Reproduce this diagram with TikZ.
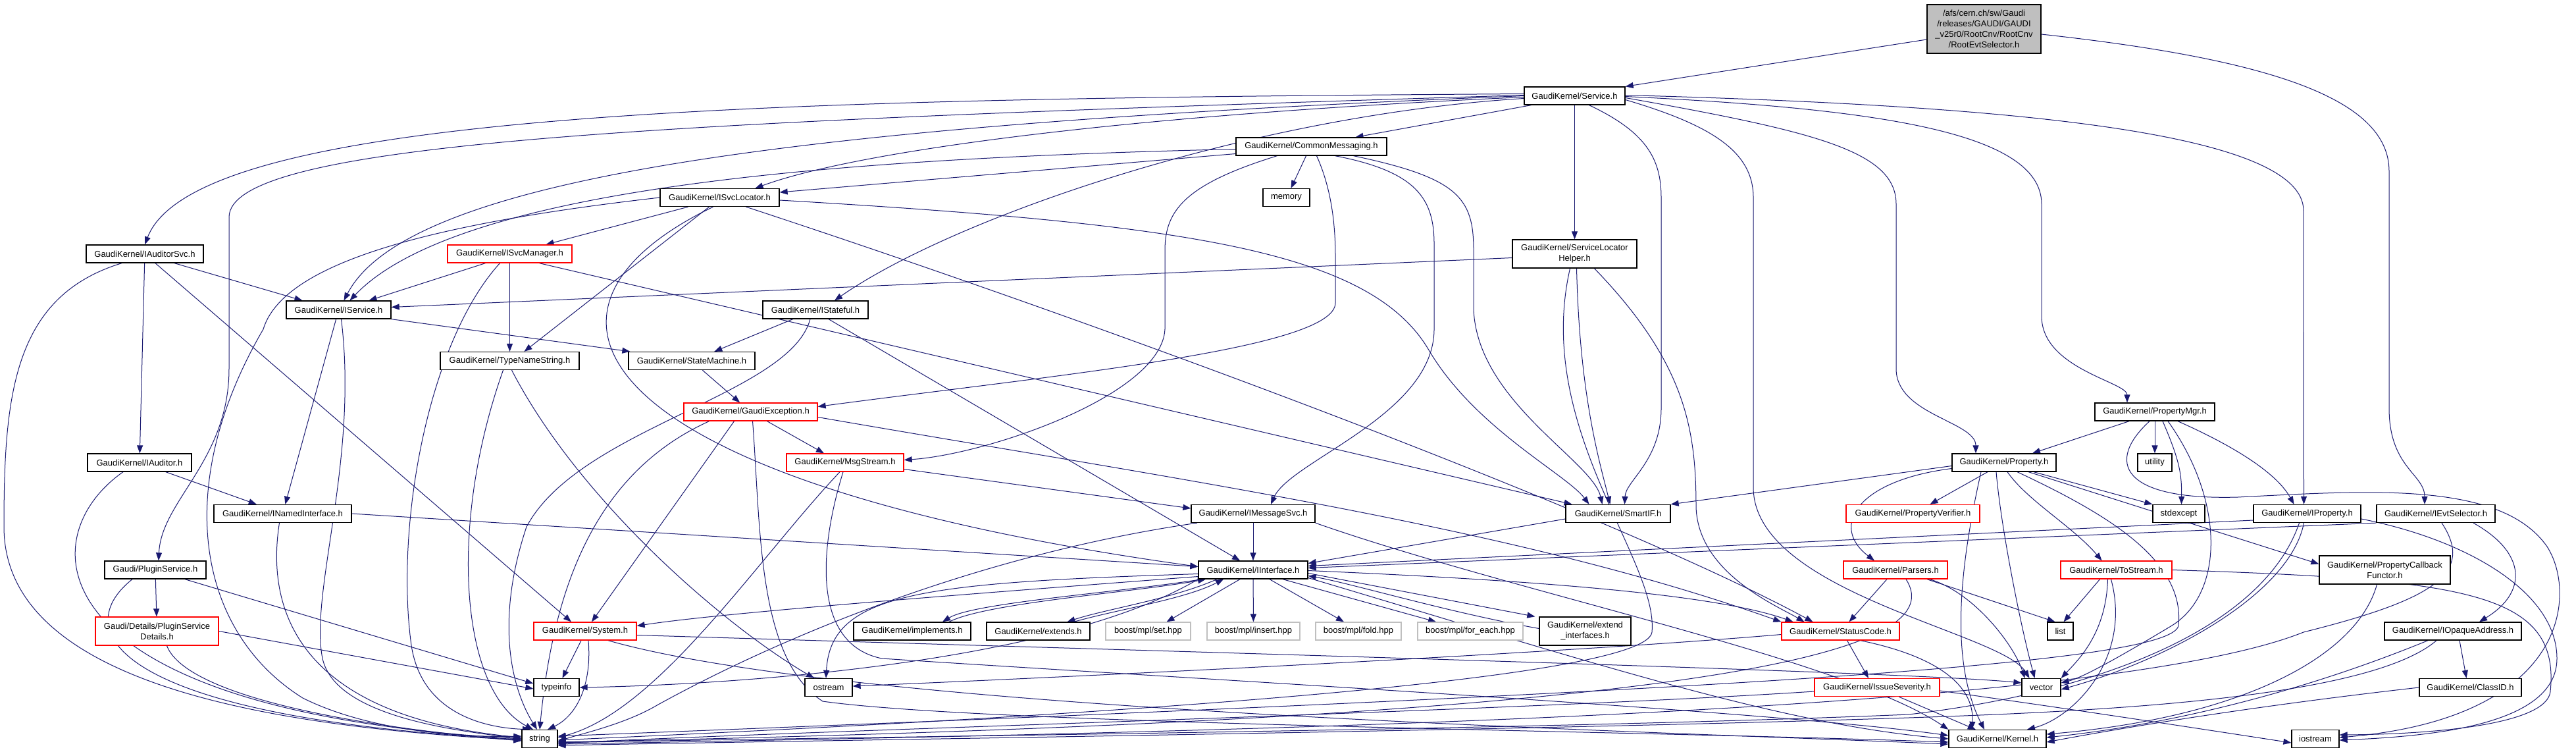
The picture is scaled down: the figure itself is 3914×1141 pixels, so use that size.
\documentclass[tikz,border=0pt]{standalone}
\usepackage{fontspec}
\usepackage{xcolor}
\newfontfamily\dxfont{Liberation Sans}
\definecolor{edgeblue}{HTML}{191970}
\usetikzlibrary{arrows.meta,backgrounds}

\begin{document}
\begin{tikzpicture}[x=1pt,y=-1pt]
			\tikzstyle{every node}+=[inner sep=0pt]
			\tikzstyle{box}=[draw=black,fill=white,line width=1.3pt,minimum height=27pt,align=center,font=\dxfont\fontsize{13pt}{16pt}\selectfont]
			\tikzstyle{redbox}=[box,draw=red]
			\tikzstyle{graybox}=[box,draw=black!25]
			\tikzstyle{incl}=[draw=edgeblue,line width=1pt,-{Triangle[length=12pt,width=9pt]}]
			\useasboundingbox (0,0) rectangle (3914,1141);
			% files
			\node[box,fill=black!25,minimum width=173pt,minimum height=74pt] (root) at (3014.5,44) {/afs/cern.ch/sw/Gaudi\\/releases/GAUDI/GAUDI\\\_v25r0/RootCnv/RootCnv\\/RootEvtSelector.h};
			\node[box,minimum width=153pt] (service) at (2392.5,145.5) {GaudiKernel/Service.h};
			\node[box,minimum width=229pt] (commsg) at (1992.5,222.5) {GaudiKernel/CommonMessaging.h};
			\node[box,minimum width=181pt] (isvcloc) at (1093.5,300) {GaudiKernel/ISvcLocator.h};
			\node[box,minimum width=71pt] (memory) at (1954.5,300) {memory};
			\node[box,minimum width=178pt] (iauditorsvc) at (220,385.5) {GaudiKernel/IAuditorSvc.h};
			\node[redbox,minimum width=189pt] (isvcmgr) at (774.5,385.5) {GaudiKernel/ISvcManager.h};
			\node[box,minimum width=189pt,minimum height=43pt] (slhelper) at (2392.5,385.5) {GaudiKernel/ServiceLocator\\Helper.h};
			\node[box,minimum width=159pt] (iservice) at (514.5,470.5) {GaudiKernel/IService.h};
			\node[box,minimum width=160pt] (istateful) at (1239,470.5) {GaudiKernel/IStateful.h};
			\node[box,minimum width=211pt] (typename) at (774.5,548) {GaudiKernel/TypeNameString.h};
			\node[box,minimum width=192pt] (statemach) at (1051,548) {GaudiKernel/StateMachine.h};
			\node[redbox,minimum width=203pt] (gaudiexc) at (1140.5,625.5) {GaudiKernel/GaudiException.h};
			\node[box,minimum width=182pt] (propmgr) at (3274,625.5) {GaudiKernel/PropertyMgr.h};
			\node[box,minimum width=158pt] (iauditor) at (212,702.5) {GaudiKernel/IAuditor.h};
			\node[redbox,minimum width=178pt] (msgstream) at (1284,702.5) {GaudiKernel/MsgStream.h};
			\node[box,minimum width=158pt] (property) at (3045,702.5) {GaudiKernel/Property.h};
			\node[box,minimum width=52pt] (utility) at (3274,702.5) {utility};
			\node[box,minimum width=209pt] (inamed) at (429.5,780) {GaudiKernel/INamedInterface.h};
			\node[box,minimum width=188pt] (imsgsvc) at (1904,780) {GaudiKernel/IMessageSvc.h};
			\node[box,minimum width=159pt] (smartif) at (2458.5,780) {GaudiKernel/SmartIF.h};
			\node[redbox,minimum width=203pt] (propverif) at (2906.5,780) {GaudiKernel/PropertyVerifier.h};
			\node[box,minimum width=79pt] (stdexcept) at (3310.5,780) {stdexcept};
			\node[box,minimum width=163pt] (iproperty) at (3505.5,780) {GaudiKernel/IProperty.h};
			\node[box,minimum width=180pt] (ievtsel) at (3701,780) {GaudiKernel/IEvtSelector.h};
			\node[box,minimum width=154pt] (plugin) at (236,865.5) {Gaudi/PluginService.h};
			\node[box,minimum width=166pt] (iinterface) at (1904,865.5) {GaudiKernel/IInterface.h};
			\node[redbox,minimum width=158pt] (parsers) at (2880,865.5) {GaudiKernel/Parsers.h};
			\node[redbox,minimum width=169pt] (tostream) at (3215.5,865.5) {GaudiKernel/ToStream.h};
			\node[box,minimum width=199pt,minimum height=43pt] (propcb) at (3623.5,865.5) {GaudiKernel/PropertyCallback\\Functor.h};
			\node[redbox,minimum width=187pt,minimum height=43pt] (plugindet) at (238.5,958.5) {Gaudi/Details/PluginService\\Details.h};
			\node[redbox,minimum width=156pt] (system) at (889,958.5) {GaudiKernel/System.h};
			\node[box,minimum width=178pt] (implements) at (1386,958.5) {GaudiKernel/implements.h};
			\node[box,minimum width=157pt] (extends) at (1577.5,958.5) {GaudiKernel/extends.h};
			\node[graybox,minimum width=129pt] (mplset) at (1744.5,958.5) {boost/mpl/set.hpp};
			\node[graybox,minimum width=141pt] (mplinsert) at (1904.5,958.5) {boost/mpl/insert.hpp};
			\node[graybox,minimum width=130pt] (mplfold) at (2064,958.5) {boost/mpl/fold.hpp};
			\node[graybox,minimum width=160pt] (mplforeach) at (2234,958.5) {boost/mpl/for\_each.hpp};
			\node[box,minimum width=139pt,minimum height=43pt] (extendif) at (2408.5,958.5) {GaudiKernel/extend\\\_interfaces.h};
			\node[redbox,minimum width=179pt] (statuscode) at (2796.5,958.5) {GaudiKernel/StatusCode.h};
			\node[box,minimum width=39pt] (list) at (3130.5,958.5) {list};
			\node[box,minimum width=208pt] (iopaque) at (3727,958.5) {GaudiKernel/IOpaqueAddress.h};
			\node[box,minimum width=69pt] (typeinfo) at (845.5,1044) {typeinfo};
			\node[box,minimum width=72pt] (ostream) at (1259,1044) {ostream};
			\node[redbox,minimum width=190pt] (issue) at (2852,1044) {GaudiKernel/IssueSeverity.h};
			\node[box,minimum width=59pt] (vector) at (3101.5,1044) {vector};
			\node[box,minimum width=155pt] (classid) at (3753.5,1044) {GaudiKernel/ClassID.h};
			\node[box,minimum width=54pt] (string) at (820,1122) {string};
			\node[box,minimum width=148pt] (kernel) at (3035,1122) {GaudiKernel/Kernel.h};
			\node[box,minimum width=72pt] (iostream) at (3518,1122) {iostream};
			\begin{pgfonlayer}{background}
			% RootEvtSelector.h
			\draw[incl] ([yshift=-16pt]root.west) -- (service.north east);
			\draw[incl] ([yshift=-8pt]root.east) .. controls (3450,90) and (3630,150) .. (3630,260) -- (3630,620) .. controls (3630,710) and (3684,720) .. ([xshift=-17pt]ievtsel.north);
			% Service.h
			\draw[incl] ([yshift=3pt]service.west) .. controls (1200,150) and (300,165) .. (iauditorsvc.north);
			\draw[incl] ([yshift=1pt]service.west) .. controls (1000,185) and (348,215) .. (348,330) -- (348,560) .. controls (348,700) and (245,760) .. ([xshift=5pt]plugin.north);
			\draw[incl] (service.west) .. controls (1200,190) and (620,270) .. ([xshift=8pt]iservice.north);
			\draw[incl] ([yshift=-2pt]service.west) .. controls (1700,175) and (1300,230) .. ([xshift=54pt]isvcloc.north);
			\draw[incl] ([yshift=-4pt]service.west) .. controls (1900,175) and (1450,330) .. ([xshift=29pt]istateful.north);
			\draw[incl] ([xshift=-66pt]service.south) -- ([xshift=67pt]commsg.north);
			\draw[incl] (service) -- (slhelper);
			\draw[incl] ([xshift=22pt]service.south) .. controls (2500,200) and (2524,240) .. (2524,300) -- (2524,620) .. controls (2524,700) and (2470,730) .. ([xshift=10pt]smartif.north);
			\draw[incl] ([yshift=-6pt]service.east) .. controls (2600,190) and (2664,230) .. (2664,300) -- (2664,740) .. controls (2664,900) and (3040,960) .. ([xshift=-18pt]vector.north);
			\draw[incl] ([yshift=-3pt]service.east) .. controls (2760,200) and (2881,230) .. (2881,310) -- (2881,560) .. controls (2881,630) and (3002,640) .. ([xshift=-43pt]property.north);
			\draw[incl] ([yshift=-1pt]service.east) .. controls (2850,165) and (3102,200) .. (3102,310) -- (3102,480) .. controls (3102,560) and (3232,580) .. ([xshift=-42pt]propmgr.north);
			\draw[incl] ([yshift=1pt]service.east) .. controls (3050,160) and (3500,200) .. (3500,320) -- ([xshift=-5pt]iproperty.north);
			% CommonMessaging.h
			\draw[incl] ([yshift=-4pt]commsg.west) .. controls (1300,240) and (700,280) .. ([xshift=17pt]iservice.north);
			\draw[incl] ([yshift=-11pt]commsg.west) -- ([yshift=8pt]isvcloc.east);
			\draw[incl] ([xshift=-8pt]commsg.south) -- ([xshift=7pt]memory.north);
			\draw[incl] ([xshift=-52pt]commsg.south) .. controls (1800,280) and (1770,320) .. (1770,380) -- (1770,500) .. controls (1765,600) and (1500,690) .. ([yshift=4pt]msgstream.east);
			\draw[incl] ([xshift=8pt]commsg.south) .. controls (2020,280) and (2029,330) .. (2029,390) -- (2029,460) .. controls (2029,530) and (1600,570) .. ([yshift=8pt]gaudiexc.east);
			\draw[incl] ([xshift=36pt]commsg.south) .. controls (2150,260) and (2179,300) .. (2179,370) -- (2179,500) .. controls (2179,630) and (1960,700) .. ([xshift=27pt]imsgsvc.north);
			\draw[incl] ([xshift=64pt]commsg.south) .. controls (2215,270) and (2239,300) .. (2239,380) -- (2239,470) .. controls (2245,610) and (2420,700) .. ([xshift=-24pt]smartif.north);
			% ISvcLocator.h
			\draw[incl] ([xshift=-48pt]isvcloc.south) -- ([xshift=55pt]isvcmgr.north);
			\draw[incl] ([xshift=-16pt]isvcloc.south) -- ([xshift=22pt]typename.north);
			\draw[incl] ([xshift=-10pt]isvcloc.south) .. controls (760,470) and (880,730) .. ([yshift=5pt]iinterface.west);
			\draw[incl] ([xshift=40pt]isvcloc.south) .. controls (1700,500) and (2450,780) .. ([xshift=-42pt]statuscode.north);
			\draw[incl] ([yshift=-4pt]isvcloc.east) .. controls (1800,340) and (2080,380) .. (2170,530) .. controls (2240,650) and (2380,720) .. ([xshift=-44pt]smartif.north);
			\draw[incl] (isvcloc.west) .. controls (650,340) and (430,400) .. (400,500) .. controls (260,740) and (300,960) .. (460,1060) .. controls (560,1110) and (700,1120) .. ([yshift=4pt]string.west);
			% ISvcManager.h
			\draw[incl] ([xshift=-37pt]isvcmgr.south) -- ([xshift=46pt]iservice.north);
			\draw[incl] (isvcmgr) -- (typename);
			\draw[incl] ([xshift=-15pt]isvcmgr.south) .. controls (650,520) and (600,800) .. (625,980) .. controls (640,1080) and (730,1105) .. ([xshift=-14pt]string.north);
			\draw[incl] ([xshift=45pt]isvcmgr.south) -- ([xshift=-70pt]smartif.north);
			% ServiceLocatorHelper.h
			\draw[incl] ([yshift=-6pt]slhelper.west) -- ([yshift=4pt]iservice.east);
			\draw[incl] ([xshift=3pt]slhelper.south) .. controls (2400,600) and (2430,700) .. ([xshift=-12pt]smartif.north);
			\draw[incl] ([xshift=30pt]slhelper.south) .. controls (2560,550) and (2577,650) .. (2577,770) .. controls (2580,870) and (2700,920) .. ([xshift=-55pt]statuscode.north);
			\draw[incl] ([xshift=-7pt]slhelper.south) .. controls (2330,650) and (2520,850) .. (2510,960) .. controls (2500,1040) and (1500,1095) .. ([yshift=-2pt]string.east);
			% IAuditorSvc.h
			\draw[incl] ([xshift=-35pt]iauditorsvc.south) .. controls (20,450) and (6,600) .. (6,800) .. controls (6,1050) and (450,1105) .. ([yshift=-2pt]string.west);
			\draw[incl] (iauditorsvc) -- (iauditor);
			\draw[incl] ([xshift=16pt]iauditorsvc.south) -- ([xshift=-21pt]system.north);
			\draw[incl] ([xshift=45pt]iauditorsvc.south) -- ([xshift=-55pt]iservice.north);
			% IService.h
			\draw[incl] (iservice) -- (inamed);
			\draw[incl] (iservice.south east) -- ([xshift=3pt]statemach.north west);
			\draw[incl] ([xshift=4pt]iservice.south) .. controls (545,700) and (470,900) .. (490,1000) .. controls (510,1090) and (700,1110) .. (string.west);
			% TypeNameString.h
			\draw[incl] ([xshift=-10pt]typename.south) .. controls (680,800) and (700,1050) .. ([xshift=-10pt]string.north);
			\draw[incl] ([xshift=3pt]typename.south) .. controls (880,760) and (1100,950) .. ([xshift=-22pt]ostream.north);
			% StateMachine.h, IStateful.h
			\draw[incl] (statemach) -- (gaudiexc);
			\draw[incl] (istateful) -- (statemach);
			\draw[incl] ([xshift=20pt]istateful.south) -- ([xshift=-20pt]iinterface.north);
			\draw[incl] ([xshift=-8pt]istateful.south) .. controls (1200,600) and (880,650) .. (800,800) .. controls (750,950) and (780,1050) .. ([xshift=-4pt]string.north);
			% GaudiException.h
			\draw[incl] ([xshift=25pt]gaudiexc.south) -- ([xshift=-32pt]msgstream.north);
			\draw[incl] ([xshift=-63pt]gaudiexc.south) .. controls (900,720) and (840,900) .. (string.north);
			\draw[incl] ([xshift=-25pt]gaudiexc.south) -- ([xshift=10pt]system.north);
			\draw[incl] ([xshift=3pt]gaudiexc.south) .. controls (1156,800) and (1150,1000) .. (1250,1065) .. controls (1500,1100) and (2500,1110) .. ([yshift=-5pt]kernel.west);
			\draw[incl] ([yshift=-8pt]gaudiexc.east) .. controls (1800,730) and (2300,800) .. (statuscode.north west);
			% MsgStream.h
			\draw[incl] ([yshift=-10pt]msgstream.east) -- ([yshift=8pt]imsgsvc.west);
			\draw[incl] ([xshift=-8pt]msgstream.south) .. controls (1150,850) and (1000,1080) .. ([yshift=2pt]string.east);
			\draw[incl] ([xshift=-3pt]msgstream.south) .. controls (1240,850) and (1240,980) .. (1340,1000) .. controls (1800,1030) and (2700,1080) .. ([yshift=5pt]kernel.west);
			% IMessageSvc.h
			\draw[incl] (imsgsvc) -- (iinterface);
			\draw[incl] ([xshift=-85pt]imsgsvc.south) .. controls (1500,840) and (1200,960) .. (1000,1070) .. controls (950,1100) and (880,1115) .. ([yshift=-4pt]string.east);
			\draw[incl] (imsgsvc.south east) .. controls (2300,900) and (2800,1000) .. (kernel.north west);
			% INamedInterface.h, IAuditor.h
			\draw[incl] (inamed.east) -- ([yshift=5pt]iinterface.west);
			\draw[incl] ([xshift=-5pt]inamed.south) .. controls (400,950) and (480,1090) .. ([yshift=2pt]string.west);
			\draw[incl] (iauditor) -- (inamed);
			\draw[incl] ([xshift=-25pt]iauditor.south) .. controls (40,820) and (60,1080) .. (string.west);
			% Gaudi/PluginService.h
			\draw[incl] (plugin) -- (plugindet);
			\draw[incl] ([xshift=45pt]plugin.south) -- ([yshift=6pt]typeinfo.west);
			\draw[incl] ([xshift=-35pt]plugin.south) .. controls (100,960) and (180,1090) .. ([yshift=-1pt]string.west);
			\draw[incl] (plugindet.east) -- ([yshift=-2pt]typeinfo.west);
			\draw[incl] ([xshift=15pt]plugindet.south) .. controls (280,1050) and (500,1100) .. ([yshift=-3pt]string.west);
			% System.h
			\draw[incl] ([xshift=-6pt]system.south) -- ([xshift=9pt]typeinfo.north);
			\draw[incl] ([xshift=5pt]system.south) .. controls (900,1050) and (870,1090) .. ([xshift=12pt]string.north);
			\draw[incl] ([xshift=35pt]system.south) .. controls (1300,1080) and (2500,1110) .. ([yshift=-8pt]kernel.west);
			\draw[incl] ([yshift=-6pt]system.east) .. controls (1800,990) and (2900,1020) .. ([yshift=7pt]vector.west);
			% IInterface.h
			\draw[incl] ([xshift=-78pt]iinterface.south) .. controls (1700,900) and (1480,915) .. ([xshift=46pt]implements.north);
			\draw[incl] ([xshift=56pt]implements.north) .. controls (1500,915) and (1720,900) .. ([xshift=-72pt]iinterface.south);
			\draw[incl] ([xshift=-55pt]iinterface.south) .. controls (1780,910) and (1680,925) .. ([xshift=44pt]extends.north);
			\draw[incl] ([xshift=54pt]extends.north) .. controls (1700,925) and (1800,910) .. ([xshift=-45pt]iinterface.south);
			\draw[incl] ([xshift=-20pt]iinterface.south) -- ([xshift=28pt]mplset.north);
			\draw[incl] (iinterface) -- (mplinsert);
			\draw[incl] ([xshift=25pt]iinterface.south) -- ([xshift=-22pt]mplfold.north);
			\draw[incl] ([xshift=45pt]iinterface.south) -- ([xshift=-52pt]mplforeach.north);
			\draw[incl] ([yshift=-5pt]iinterface.east) -- ([xshift=-6pt]extendif.north west);
			\draw[incl] ([yshift=4pt]extendif.west) .. controls (2200,930) and (2050,885) .. ([yshift=-9pt]iinterface.east);
			\draw[incl] ([yshift=-10pt]iinterface.west) .. controls (1500,900) and (1100,930) .. ([yshift=8pt]system.east);
			\draw[incl] ([yshift=-6pt]iinterface.west) .. controls (1400,885) and (1262,900) .. ([xshift=-4pt]ostream.north);
			\draw[incl] (iinterface.south west) .. controls (1600,1010) and (1100,1040) .. (typeinfo.east);
			\draw[incl] ([yshift=-1pt]iinterface.east) .. controls (2300,880) and (2600,900) .. ([xshift=-72pt]statuscode.north);
			\draw[incl] ([yshift=-12pt]iinterface.east) .. controls (2400,1000) and (2700,1100) .. (kernel.west);
			% SmartIF.h
			\draw[incl] ([yshift=-8pt]smartif.west) -- ([yshift=10pt]iinterface.east);
			% Property.h
			\draw[incl] ([yshift=-5pt]property.west) -- (smartif.north east);
			\draw[incl] ([yshift=-9pt]property.west) .. controls (2820,730) and (2780,800) .. ([xshift=-32pt]parsers.north);
			\draw[incl] ([xshift=-25pt]property.south) -- ([xshift=26pt]propverif.north);
			\draw[incl] ([xshift=-35pt]property.south) .. controls (2980,850) and (2960,1000) .. ([xshift=-20pt]kernel.north);
			\draw[incl] ([xshift=-12pt]property.south) .. controls (3040,800) and (3070,950) .. ([xshift=-10pt]vector.north);
			\draw[incl] ([xshift=5pt]property.south) .. controls (3080,760) and (3150,800) .. ([xshift=-22pt]tostream.north);
			\draw[incl] ([xshift=20pt]property.south) .. controls (3200,780) and (3320,850) .. (3310,950) .. controls (3300,1010) and (2600,1050) .. ([yshift=4pt]string.east);
			\draw[incl] ([xshift=37pt]property.south) -- ([yshift=9pt]propcb.west);
			\draw[incl] ([xshift=45pt]property.south) -- (stdexcept.north west);
			% PropertyMgr.h
			\draw[incl] ([xshift=-39pt]propmgr.south) -- ([xshift=43pt]property.north);
			\draw[incl] (propmgr) -- (utility);
			\draw[incl] ([xshift=12pt]propmgr.south) .. controls (3312,700) and (3315,720) .. ([xshift=4pt]stdexcept.north);
			\draw[incl] ([xshift=35pt]propmgr.south) .. controls (3400,680) and (3460,720) .. ([xshift=-20pt]iproperty.north);
			\draw[incl] ([xshift=20pt]propmgr.south) .. controls (3380,760) and (3380,900) .. (3300,950) .. controls (3200,1010) and (3160,1030) .. ([yshift=7pt]vector.east);
			\draw[incl] ([xshift=-8pt]propmgr.south) .. controls (3200,700) and (3220,760) .. (3400,755) .. controls (3600,745) and (3800,730) .. (3870,830) .. controls (3915,900) and (3905,1090) .. ([yshift=2pt]iostream.east);
			% IProperty.h
			\draw[incl] ([yshift=-10pt]iproperty.west) -- ([yshift=6pt]iinterface.east);
			\draw[incl] ([xshift=-5pt]iproperty.south) .. controls (3480,900) and (3300,1000) .. ([yshift=-3pt]vector.east);
			\draw[incl] ([xshift=-12pt]iproperty.south) .. controls (3440,950) and (3200,1050) .. (2900,1085) .. controls (2300,1110) and (1200,1120) .. ([yshift=-6pt]string.east);
			\draw[incl] ([yshift=-8pt]iproperty.east) .. controls (3750,820) and (3885,900) .. (3885,1000) .. controls (3885,1100) and (3700,1118) .. ([yshift=-2pt]iostream.east);
			% IEvtSelector.h
			\draw[incl] (ievtsel.south west) -- ([yshift=3pt]iinterface.east);
			\draw[incl] ([xshift=57pt]ievtsel.south) .. controls (3840,840) and (3840,900) .. ([xshift=40pt]iopaque.north);
			\draw[incl] ([xshift=9pt]ievtsel.south) .. controls (3760,870) and (3700,910) .. (3500,960) .. controls (3200,1080) and (2000,1110) .. ([yshift=-8pt]string.east);
			% IOpaqueAddress.h, ClassID.h, PropertyCallbackFunctor.h
			\draw[incl] ([xshift=10pt]iopaque.south) -- ([xshift=-6pt]classid.north);
			\draw[incl] ([xshift=-38pt]iopaque.south) .. controls (3500,1050) and (3300,1100) .. ([yshift=2pt]kernel.east);
			\draw[incl] ([xshift=-25pt]iopaque.south) .. controls (3600,1060) and (3200,1080) .. (2900,1090) .. controls (2300,1110) and (1200,1125) .. ([yshift=-10pt]string.east);
			\draw[incl] (classid.west) .. controls (3400,1075) and (3200,1110) .. ([yshift=-5pt]kernel.east);
			\draw[incl] ([xshift=-12pt]propcb.south) .. controls (3580,1000) and (3400,1090) .. ([yshift=7pt]kernel.east);
			% Parsers.h, ToStream.h
			\draw[incl] ([xshift=-13pt]parsers.south) -- ([xshift=13pt]statuscode.north);
			\draw[incl] ([xshift=48pt]parsers.south) -- ([xshift=-8pt]list.north);
			\draw[incl] ([xshift=52pt]parsers.south) .. controls (3000,900) and (3060,980) .. ([xshift=-25pt]vector.north);
			\draw[incl] ([xshift=16pt]parsers.south) .. controls (2960,980) and (2700,1090) .. ([yshift=-5pt]string.east);
			\draw[incl] ([xshift=-25pt]tostream.south) -- ([xshift=5pt]list.north);
			\draw[incl] ([xshift=-13pt]tostream.south) .. controls (3200,960) and (3160,1000) .. (vector.north east);
			\draw[incl] ([xshift=-8pt]tostream.south) .. controls (3240,1000) and (3150,1090) .. ([xshift=45pt]kernel.north);
			\draw[incl] (tostream.east) .. controls (3750,880) and (3890,900) .. (3875,1050) .. controls (3870,1100) and (3700,1115) .. ([yshift=6pt]iostream.east);
			% StatusCode.h, IssueSeverity.h
			\draw[incl] ([xshift=10pt]statuscode.south) -- ([xshift=-13pt]issue.north);
			\draw[incl] ([yshift=-5pt]statuscode.west) .. controls (2400,990) and (1700,1025) .. ([yshift=2pt]ostream.east);
			\draw[incl] ([xshift=30pt]statuscode.south) .. controls (2960,1000) and (3000,1050) .. ([xshift=-39pt]kernel.north);
			\draw[incl] (issue) -- (kernel);
			\draw[incl] ([yshift=-6pt]issue.west) .. controls (2300,1080) and (1200,1110) .. ([yshift=-7pt]string.east);
			\draw[incl] ([yshift=-5pt]issue.east) .. controls (3100,1070) and (3300,1100) .. ([yshift=-6pt]iostream.west);
			\end{pgfonlayer}
		\end{tikzpicture}
\end{document}
